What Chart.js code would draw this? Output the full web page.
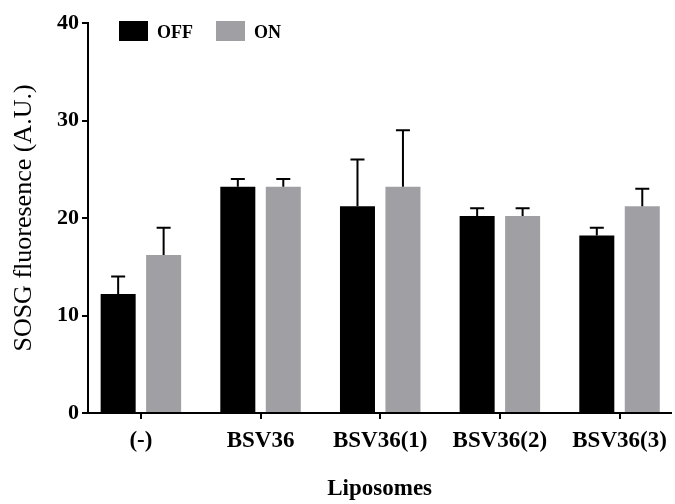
<!DOCTYPE html>
<html>
<head>
<meta charset="utf-8">
<script src="https://cdn.jsdelivr.net/npm/chart.js@4/dist/chart.umd.min.js"></script>
<style>
  html, body { margin: 0; background: #fff; }
  #wrap { width: 675px; height: 504px; }
</style>
</head>
<body>
<div id="wrap"><canvas id="c"></canvas></div>
<script>
// data
const categories = ["(-)", "BSV36", "BSV36(1)", "BSV36(2)", "BSV36(3)"];
const offValues = [12.2, 23.2, 21.2, 20.2, 18.2];
const offErrors = [1.8, 0.8, 4.8, 0.8, 0.8];
const onValues = [16.2, 23.2, 23.2, 20.2, 21.2];
const onErrors = [2.8, 0.8, 5.8, 0.8, 1.8];
const yTicks = [0, 10, 20, 30, 40];

const SERIF = "'Liberation Serif', 'Times New Roman', serif";
const GRAY = "#a0a0a4";

const toPoints = (vals) => vals.map((v, i) => ({ x: i, y: v }));

// upper-only error bars with caps, drawn over the bars
const errorBars = {
  id: "errorBars",
  afterDatasetsDraw(chart) {
    const ctx = chart.ctx;
    const y = chart.scales.y;
    ctx.save();
    ctx.strokeStyle = "#000";
    ctx.lineWidth = 2;
    chart.data.datasets.forEach((ds, di) => {
      chart.getDatasetMeta(di).data.forEach((bar, i) => {
        const top = y.getPixelForValue(ds.data[i].y + ds.errors[i]);
        ctx.beginPath();
        ctx.moveTo(bar.x, bar.y);
        ctx.lineTo(bar.x, top);
        ctx.moveTo(bar.x - 7, top);
        ctx.lineTo(bar.x + 7, top);
        ctx.stroke();
      });
    });
    ctx.restore();
  }
};

// legend sitting inside the plot, top-left
const inlineLegend = {
  id: "inlineLegend",
  afterDraw(chart) {
    const ctx = chart.ctx;
    let x = chart.chartArea.left + 31;
    const top = 21;
    ctx.save();
    ctx.font = "bold 18px " + SERIF;
    ctx.textBaseline = "middle";
    chart.data.datasets.forEach((ds) => {
      ctx.fillStyle = ds.backgroundColor;
      ctx.fillRect(x, top, 29, 20);
      ctx.fillStyle = "#000";
      ctx.fillText(ds.label, x + 38, top + 12);
      x += 38 + ctx.measureText(ds.label).width + 23;
    });
    ctx.restore();
  }
};

new Chart(document.getElementById("c"), {
  type: "bar",
  data: {
    datasets: [
      { label: "OFF", data: toPoints(offValues), errors: offErrors, backgroundColor: "#000", borderWidth: 0 },
      { label: "ON", data: toPoints(onValues), errors: onErrors, backgroundColor: GRAY, borderWidth: 0 },
    ],
  },
  options: {
    responsive: true,
    maintainAspectRatio: false,
    animation: false,
    categoryPercentage: 0.76,
    barPercentage: 0.77,
    layout: { padding: { top: 23, right: 2, bottom: 0, left: 0 } },
    plugins: { legend: { display: false }, tooltip: { enabled: false } },
    scales: {
      x: {
        type: "linear",
        min: -0.442,
        max: 4.433,
        offset: false,
        afterBuildTicks: (s) => { s.ticks = categories.map((_, i) => ({ value: i })); },
        afterFit: (s) => { s.height = 91; },
        grid: { display: true, offset: false, drawOnChartArea: false, drawTicks: true, tickLength: 6, color: "#000", lineWidth: 2 },
        border: { display: true, color: "#000", width: 2 },
        ticks: {
          color: "#000",
          padding: 8,
          maxRotation: 0,
          autoSkip: false,
          font: { family: SERIF, size: 23, weight: "bold" },
          callback: (v) => categories[v],
        },
        title: {
          display: true,
          text: "Liposomes",
          color: "#000",
          padding: { top: 0, bottom: 1 },
          font: { family: SERIF, size: 23, weight: "bold" },
        },
      },
      y: {
        min: 0,
        max: 40,
        afterBuildTicks: (s) => { s.ticks = yTicks.map((v) => ({ value: v })); },
        afterFit: (s) => { s.width = 88; },
        grid: { display: true, drawOnChartArea: false, drawTicks: true, tickLength: 6, color: "#000", lineWidth: 2 },
        border: { display: true, color: "#000", width: 2 },
        ticks: {
          color: "#000",
          padding: 3,
          font: { family: SERIF, size: 22, weight: "bold" },
        },
        title: {
          display: true,
          text: "SOSG fluoresence (A.U.)",
          color: "#000",
          padding: { top: 9, bottom: 0 },
          font: { family: SERIF, size: 26 },
        },
      },
    },
  },
  plugins: [errorBars, inlineLegend],
});
</script>
</body>
</html>
